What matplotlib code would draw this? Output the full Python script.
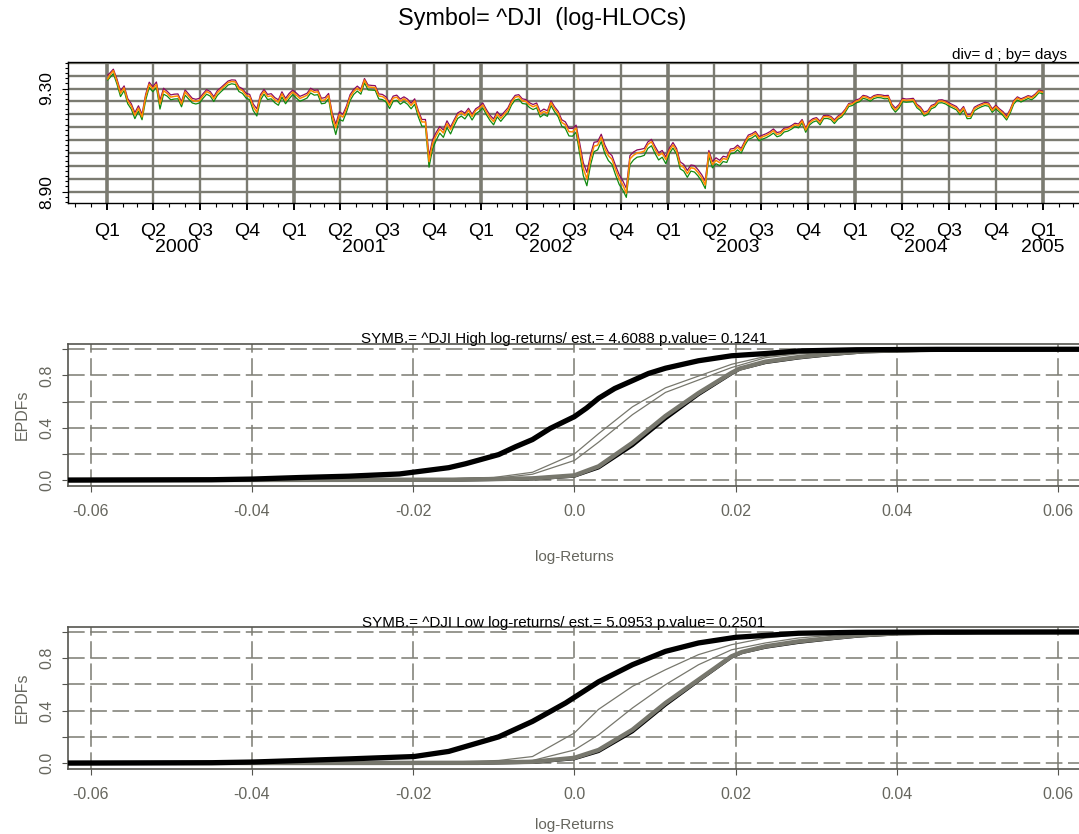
import numpy as np
import pandas as pd
import matplotlib
matplotlib.use("Agg")
import matplotlib.pyplot as plt
import matplotlib.dates as mdates
from matplotlib.ticker import MultipleLocator
from matplotlib.transforms import blended_transform_factory

plt.rcParams['font.family'] = ['Liberation Sans', 'DejaVu Sans']
plt.rcParams['lines.scale_dashes'] = False

# ---- top panel: DJI levels (first day, then weekly Friday values) ----
dji_close = [11357,
    # 2000
    11522, 11723, 11251, 10739, 10964, 10425, 10220, 9862, 10137, 9796, 10595, 11113, 10922,
    11112, 10306, 10844, 10734, 10578, 10610, 10627, 10300, 10794, 10615, 10449, 10405, 10448,
    10636, 10812, 10733, 10512, 10767, 10908, 11046, 11192, 11238, 11220, 10927, 10847, 10651,
    10597, 10193, 9976, 10590, 10817, 10602, 10630, 10470, 10373, 10712, 10434, 10635, 10787,
    # 2001
    10662, 10525, 10587, 10659, 10864, 10781, 10799, 10441, 10466, 10644, 9823, 9389, 9879,
    9791, 10127, 10579, 10811, 10952, 10822, 11302, 11005, 10991, 10977, 10623, 10604, 10502,
    10253, 10539, 10577, 10417, 10512, 10416, 10240, 10423, 9950, 9606, 9606, 8236, 8848,
    9120, 9344, 9205, 9545, 9323, 9608, 9867, 9960, 9852, 10049, 9812, 10035, 10136,
    # 2002
    10259, 9987, 9772, 9618, 9908, 9744, 9904, 10062, 10368, 10572, 10608, 10427, 10404,
    10271, 10191, 10257, 9910, 10006, 9939, 10353, 10105, 9925, 9589, 9503, 9253, 9243,
    9380, 8684, 8019, 7702, 8313, 8745, 8778, 9053, 8664, 8428, 8313, 7986, 7701,
    7528, 7286, 8322, 8443, 8517, 8537, 8579, 8805, 8896, 8645, 8433, 8512, 8304,
    # 2003
    8601, 8785, 8587, 8131, 8054, 7864, 8043, 8018, 7891, 7740, 7524, 8522, 8145,
    8277, 8203, 8338, 8307, 8583, 8604, 8713, 8601, 8850, 9063, 9117, 9200, 9011,
    9070, 9119, 9189, 9285, 9153, 9191, 9321, 9349, 9416, 9503, 9471, 9645, 9313,
    9573, 9675, 9721, 9582, 9801, 9810, 9768, 9629, 9782, 9863, 10042, 10278, 10305,
    # 2004
    10409, 10458, 10600, 10568, 10488, 10593, 10628, 10620, 10584, 10596, 10240, 10064, 10213,
    10470, 10443, 10452, 10473, 10226, 10117, 9906, 9967, 10188, 10242, 10410, 10416, 10371,
    10283, 10213, 10140, 9962, 10140, 9815, 9825, 10111, 10196, 10260, 10314, 10285, 10047,
    10193, 10055, 9933, 9758, 10027, 10387, 10540, 10456, 10522, 10592, 10543, 10661, 10828, 10783]

dji_high = [11522,
    # 2000
    11610, 11790, 11350, 10830, 11050, 10520, 10310, 9960, 10230, 9900, 10690, 11210, 11010,
    11220, 10450, 10950, 10820, 10670, 10700, 10710, 10390, 10880, 10700, 10530, 10490, 10530,
    10720, 10890, 10810, 10600, 10850, 10980, 11120, 11260, 11310, 11300, 11010, 10930, 10740,
    10690, 10300, 10110, 10680, 10900, 10690, 10720, 10560, 10470, 10800, 10530, 10730, 10870,
    # 2001
    10750, 10610, 10670, 10740, 10950, 10860, 10880, 10530, 10560, 10730, 9950, 9530, 9990,
    9900, 10230, 10680, 10900, 11040, 10910, 11370, 11090, 11070, 11060, 10710, 10690, 10590,
    10340, 10620, 10660, 10500, 10590, 10500, 10330, 10510, 10040, 9700, 9700, 8420, 8970,
    9230, 9440, 9310, 9650, 9420, 9690, 9950, 10030, 9940, 10130, 9900, 10110, 10200,
    # 2002
    10340, 10080, 9860, 9720, 10000, 9830, 9990, 10150, 10450, 10650, 10680, 10510, 10480,
    10350, 10280, 10340, 10000, 10100, 10030, 10430, 10190, 10010, 9690, 9610, 9370, 9370,
    9490, 8850, 8200, 7900, 8450, 8880, 8900, 9160, 8790, 8540, 8430, 8110, 7830,
    7650, 7430, 8430, 8550, 8620, 8640, 8670, 8890, 8980, 8740, 8530, 8600, 8390,
    # 2003
    8680, 8870, 8670, 8230, 8150, 7960, 8130, 8110, 7980, 7830, 7640, 8600, 8240,
    8360, 8280, 8410, 8380, 8650, 8670, 8780, 8670, 8910, 9130, 9180, 9260, 9080,
    9130, 9180, 9250, 9350, 9220, 9250, 9380, 9400, 9470, 9560, 9530, 9700, 9380,
    9630, 9730, 9770, 9640, 9850, 9860, 9820, 9690, 9830, 9920, 10090, 10320, 10350,
    # 2004
    10460, 10510, 10650, 10620, 10540, 10640, 10680, 10670, 10640, 10650, 10300, 10140, 10280,
    10530, 10500, 10510, 10530, 10290, 10180, 9980, 10030, 10240, 10300, 10460, 10470, 10420,
    10340, 10270, 10200, 10030, 10200, 9880, 9890, 10170, 10250, 10310, 10370, 10340, 10110,
    10250, 10110, 10000, 9830, 10090, 10440, 10590, 10510, 10570, 10640, 10600, 10710, 10870, 10830]

dji_low = [11305,
    # 2000
    11400, 11590, 11130, 10600, 10850, 10310, 10100, 9730, 10020, 9690, 10450, 10990, 10800,
    10990, 10100, 10700, 10620, 10470, 10500, 10510, 10190, 10660, 10500, 10340, 10300, 10340,
    10530, 10700, 10620, 10400, 10650, 10800, 10940, 11090, 11140, 11110, 10810, 10730, 10540,
    10470, 10040, 9830, 10450, 10700, 10480, 10510, 10350, 10250, 10580, 10310, 10510, 10680,
    # 2001
    10540, 10410, 10470, 10540, 10750, 10660, 10680, 10310, 10330, 10520, 9650, 9150, 9700,
    9640, 9990, 10440, 10690, 10830, 10700, 11180, 10880, 10870, 10860, 10500, 10480, 10380,
    10120, 10410, 10450, 10290, 10390, 10290, 10110, 10290, 9800, 9450, 9450, 8060, 8660,
    8950, 9200, 9050, 9400, 9170, 9470, 9740, 9830, 9720, 9920, 9680, 9910, 10010,
    # 2002
    10140, 9880, 9660, 9500, 9800, 9630, 9800, 9950, 10260, 10460, 10500, 10320, 10300,
    10160, 10080, 10150, 9790, 9890, 9820, 10240, 9990, 9800, 9450, 9370, 9100, 9090,
    9230, 8490, 7800, 7500, 8120, 8560, 8620, 8900, 8500, 8270, 8150, 7820, 7540,
    7380, 7170, 8140, 8290, 8380, 8400, 8440, 8670, 8760, 8500, 8290, 8380, 8170,
    # 2003
    8500, 8680, 8480, 8010, 7940, 7750, 7940, 7910, 7790, 7630, 7420, 8410, 8040,
    8170, 8110, 8240, 8210, 8490, 8510, 8620, 8510, 8770, 8980, 9030, 9120, 8930,
    8990, 9040, 9110, 9200, 9070, 9110, 9240, 9270, 9340, 9430, 9390, 9570, 9230,
    9490, 9600, 9650, 9500, 9730, 9740, 9700, 9550, 9710, 9790, 9970, 10200, 10240,
    # 2004
    10340, 10390, 10530, 10490, 10410, 10520, 10560, 10550, 10510, 10520, 10160, 9980, 10130,
    10390, 10370, 10380, 10400, 10150, 10040, 9830, 9890, 10110, 10170, 10340, 10350, 10300,
    10210, 10140, 10070, 9880, 10060, 9730, 9740, 10030, 10120, 10190, 10240, 10210, 9970,
    10110, 9980, 9850, 9680, 9940, 10300, 10460, 10380, 10450, 10520, 10470, 10590, 10760, 10720]

quarter_names = ['Q1', 'Q2', 'Q3', 'Q4']
years = [2000, 2001, 2002, 2003, 2004, 2005]

# ---- EPDF panels: (log-return, cumulative probability) ----
high_emp_x = [-0.065, -0.045, -0.040, -0.034, -0.028, -0.0217, -0.0156, -0.0135, -0.0094, -0.0073,
              -0.0052, -0.0030, 0.0, 0.0015, 0.003, 0.0050, 0.0072, 0.0092, 0.0113, 0.0154, 0.0195,
              0.0237, 0.0278, 0.035, 0.045, 0.065]
high_emp_p = [0.0, 0.003, 0.008, 0.02, 0.03, 0.047, 0.095, 0.125, 0.195, 0.255,
              0.31, 0.395, 0.485, 0.55, 0.625, 0.70, 0.76, 0.815, 0.855, 0.912, 0.95,
              0.967, 0.987, 0.996, 0.999, 1.0]
high_fit1_x = [-0.065, -0.020, -0.010, -0.0052, 0.0, 0.003, 0.0072, 0.0113, 0.0154, 0.0195, 0.0237,
               0.0278, 0.036, 0.050, 0.065]
high_fit1_p = [0.0, 0.003, 0.02, 0.06, 0.20, 0.355, 0.56, 0.705, 0.795, 0.885, 0.945,
               0.972, 0.99, 0.998, 1.0]
high_fit2_x = [-0.065, -0.018, -0.010, -0.0052, 0.0, 0.003, 0.0072, 0.0113, 0.0154, 0.0195, 0.0237,
               0.0278, 0.036, 0.050, 0.065]
high_fit2_p = [0.0, 0.003, 0.012, 0.045, 0.15, 0.29, 0.50, 0.67, 0.765, 0.86, 0.935,
               0.965, 0.988, 0.997, 1.0]
high_sim_x = [-0.065, -0.015, -0.0052, 0.0, 0.003, 0.0072, 0.0113, 0.0154, 0.0195, 0.0205, 0.0237,
              0.0278, 0.032, 0.036, 0.045, 0.065]
high_sim_p = [0.0, 0.003, 0.013, 0.036, 0.105, 0.285, 0.49, 0.665, 0.82, 0.852, 0.905,
              0.94, 0.966, 0.985, 0.997, 1.0]
high_ref_p = [0.0, 0.002, 0.011, 0.032, 0.095, 0.265, 0.47, 0.655, 0.815, 0.85, 0.90,
              0.935, 0.962, 0.982, 0.996, 1.0]

low_emp_x = [-0.065, -0.045, -0.040, -0.034, -0.028, -0.0199, -0.0156, -0.0094, -0.0052, -0.0011,
             0.003, 0.0072, 0.0113, 0.0154, 0.020, 0.0278, 0.035, 0.045, 0.065]
low_emp_p = [0.0, 0.003, 0.008, 0.02, 0.032, 0.05, 0.089, 0.20, 0.318, 0.458,
             0.62, 0.75, 0.852, 0.916, 0.959, 0.99, 0.997, 0.999, 1.0]
low_fit1_x = [-0.065, -0.018, -0.0094, -0.0052, 0.0, 0.003, 0.0072, 0.0113, 0.0154, 0.0195, 0.0237,
              0.0278, 0.034, 0.045, 0.065]
low_fit1_p = [0.0, 0.003, 0.02, 0.05, 0.23, 0.41, 0.585, 0.712, 0.827, 0.903, 0.954,
              0.98, 0.995, 0.999, 1.0]
low_fit2_x = [-0.065, -0.012, -0.0052, 0.0, 0.003, 0.0072, 0.0113, 0.0154, 0.0195, 0.0237, 0.0278,
              0.034, 0.045, 0.065]
low_fit2_p = [0.0, 0.003, 0.02, 0.10, 0.215, 0.42, 0.598, 0.75, 0.864, 0.916, 0.954,
              0.985, 0.997, 1.0]
low_sim_x = [-0.065, -0.012, -0.0052, 0.0, 0.003, 0.0072, 0.0113, 0.0154, 0.0195, 0.0208, 0.0237,
             0.0278, 0.0319, 0.0352, 0.0402, 0.050, 0.065]
low_sim_p = [0.0, 0.002, 0.01, 0.04, 0.10, 0.254, 0.458, 0.636, 0.814, 0.847, 0.89,
             0.928, 0.954, 0.974, 0.99, 0.998, 1.0]
low_ref_p = [0.0, 0.001, 0.008, 0.035, 0.09, 0.24, 0.445, 0.63, 0.81, 0.845, 0.885,
             0.922, 0.95, 0.97, 0.988, 0.997, 1.0]

ret_ticks = [-0.06, -0.04, -0.02, 0.0, 0.02, 0.04, 0.06]
ret_labels = ['-0.06', '-0.04', '-0.02', '0.0', '0.02', '0.04', '0.06']
prob_ticks = [0.0, 0.2, 0.4, 0.6, 0.8, 1.0]
prob_labels = ['0.0', '', '0.4', '', '0.8', '']

# ---- figure ----
W, H = 1079, 834
fig = plt.figure(figsize=(W / 100, H / 100), dpi=100)


def box(top, bottom, left=68.3, right=1080.5):
    return [left / W, 1 - bottom / H, (right - left) / W, (bottom - top) / H]


def fy(py):
    return 1 - py / H


grid_col = '#7b7b71'
gray_txt = '#66665e'

# top panel
ax1 = fig.add_axes(box(61.7, 202.7))
dates = pd.DatetimeIndex(['2000-01-03']).append(pd.date_range('2000-01-07', '2004-12-31', freq='W-FRI'))
dnum = mdates.date2num(dates)
quarters = pd.date_range('2000-01-01', '2005-01-01', freq='QS')
qnum = mdates.date2num(quarters)
months = mdates.date2num(pd.date_range('1999-11-01', '2005-03-01', freq='MS'))

for lvl in np.arange(8.90, 9.401, 0.05):
    ax1.axhline(lvl, color=grid_col, lw=1.7, zorder=1)
for q, qd in zip(qnum, quarters):
    ax1.axvline(q, color=grid_col, lw=2.6 if qd.month == 1 else 1.7, zorder=1)

ax1.plot(dnum, np.log(dji_high), color='#8b0a5f', lw=0.9, zorder=3)
ax1.plot(dnum, np.log(dji_low), color='#118a11', lw=0.9, zorder=3)
ax1.plot(dnum, np.log(dji_close), color='#ff8a00', lw=1.1, zorder=4)

ax1.set_xlim(qnum[0] - 74.9, qnum[-1] + 73.2)
ax1.set_ylim(8.857, 9.404)
ax1.set_xticks(qnum)
ax1.set_xticklabels([])
ax1.set_xticks(months, minor=True)
ax1.tick_params(axis='x', which='major', length=5, width=1.4, color='black')
ax1.tick_params(axis='x', which='minor', length=3, width=0.8)
ax1.set_yticks([8.90, 9.30])
ax1.set_yticklabels(['8.90', '9.30'], rotation=90, va='center', fontsize=12.5)
ax1.yaxis.set_minor_locator(MultipleLocator(0.02))
ax1.tick_params(axis='y', which='major', length=4, pad=6)
ax1.tick_params(axis='y', which='minor', length=2.5, width=0.8)
for sp in ax1.spines.values():
    sp.set_color('black')
    sp.set_linewidth(1.0)

tr1 = blended_transform_factory(ax1.transData, fig.transFigure)
for q, qd in zip(qnum, quarters):
    ax1.text(q, fy(231), quarter_names[(qd.month - 1) // 3], transform=tr1,
             ha='center', va='center', fontsize=14)
for yr in years:
    qs = [q for q, qd in zip(qnum, quarters) if qd.year == yr]
    ax1.text(np.mean(qs), fy(247.5), str(yr), transform=tr1,
             ha='center', va='center', fontsize=14)

fig.text(542 / W, fy(18), 'Symbol= ^DJI  (log-HLOCs)', ha='center', va='center', fontsize=16.8)
fig.text(1067 / W, fy(59.5), 'div= d ; by= days', ha='right', va='baseline', fontsize=11)


def epdf_panel(top, bottom, curves, title, title_base, label_y):
    ax = fig.add_axes(box(top, bottom))
    for v in ret_ticks:
        ax.axvline(v, color=grid_col, lw=1.1, dashes=(12, 4), zorder=1)
    for h in prob_ticks:
        ax.axhline(h, color=grid_col, lw=1.1, dashes=(12, 4), zorder=1)
    for xs, ps, col, lw in curves:
        ax.plot(xs, ps, color=col, lw=lw, solid_joinstyle='round', zorder=3)
    ax.set_xlim(-0.0628, 0.0628)
    ax.set_ylim(-0.045, 1.04)
    ax.set_xticks(ret_ticks)
    ax.set_xticklabels(ret_labels, fontsize=11.5, color=gray_txt)
    ax.set_yticks(prob_ticks)
    ax.set_yticklabels(prob_labels, rotation=90, va='center', fontsize=11.5, color=gray_txt)
    ax.tick_params(axis='x', length=4, pad=9, color='#55554f')
    ax.tick_params(axis='y', length=4, pad=6, color='#55554f')
    for sp in ax.spines.values():
        sp.set_color('#55554f')
        sp.set_linewidth(1.2)
    ax.set_ylabel('EPDFs', fontsize=11.5, color=gray_txt, labelpad=7)
    fig.text(564 / W, fy(title_base), title, ha='center', va='baseline', fontsize=10.9)
    fig.text(574 / W, fy(label_y), 'log-Returns', ha='center', va='center',
             fontsize=11, color=gray_txt)
    return ax


thick_gray = '#77776d'
epdf_panel(344, 486,
           [(high_fit1_x, high_fit1_p, thick_gray, 0.9),
            (high_fit2_x, high_fit2_p, thick_gray, 0.9),
            (high_sim_x, high_ref_p, 'black', 2.6),
            (high_sim_x, high_sim_p, thick_gray, 3.2),
            (high_emp_x, high_emp_p, 'black', 3.8)],
           'SYMB.= ^DJI High log-returns/ est.= 4.6088 p.value= 0.1241', 343, 557)
epdf_panel(626.7, 769,
           [(low_fit1_x, low_fit1_p, thick_gray, 0.9),
            (low_fit2_x, low_fit2_p, thick_gray, 0.9),
            (low_sim_x, low_ref_p, 'black', 2.6),
            (low_sim_x, low_sim_p, thick_gray, 3.2),
            (low_emp_x, low_emp_p, 'black', 3.8)],
           'SYMB.= ^DJI Low log-returns/ est.= 5.0953 p.value= 0.2501', 627, 825)

fig.savefig('out.png', dpi=100)
